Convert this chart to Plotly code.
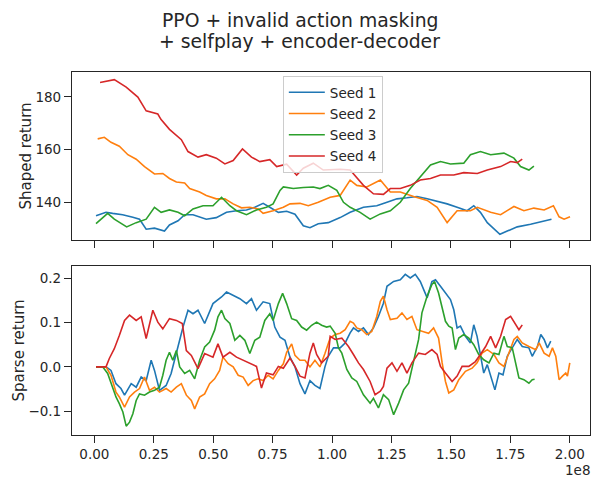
import plotly.graph_objects as go

# ---------------- data (x in units of 1e8 environment steps) ----------------
series_names = ["Seed 1", "Seed 2", "Seed 3", "Seed 4"]
colors = ["#1f77b4", "#ff7f0e", "#2ca02c", "#d62728"]

shaped_x1 = [0.007,0.049,0.077,0.119,0.162,0.19,0.218,0.253,0.295,0.316,0.352,0.38,0.415,0.471,0.513,0.556,0.598,0.64,0.675,0.71,0.738,0.774,0.809,0.844,0.879,0.907,0.942,0.984,1.034,1.076,1.132,1.188,1.231,1.273,1.315,1.357,1.4,1.442,1.484,1.526,1.568,1.596,1.624,1.653,1.681,1.706,1.737,1.779,1.835,1.878,1.923]
shaped_y1 = [135,136.3,135.9,135.4,134.4,133.7,129.9,130.3,129.2,131.5,133.1,135.4,135.4,133.7,134.3,136.3,136.9,137.2,138.2,139.7,138.2,136.3,136.7,135.6,131.2,130.5,132,132.4,134.3,136.3,138.2,138.8,140.1,141.4,141.8,142.3,141.4,140.5,139.5,138.2,136.9,138.8,136.3,132.4,129.9,128,129.2,130.8,131.8,132.8,133.7]

shaped_x2 = [0.014,0.042,0.07,0.105,0.141,0.176,0.211,0.253,0.288,0.316,0.345,0.38,0.401,0.443,0.471,0.513,0.549,0.584,0.619,0.654,0.689,0.71,0.752,0.795,0.823,0.865,0.9,0.942,0.992,1.034,1.076,1.104,1.146,1.203,1.245,1.287,1.343,1.4,1.442,1.484,1.526,1.582,1.611,1.667,1.709,1.765,1.807,1.849,1.892,1.931,1.955,1.976,2.001]
shaped_y2 = [164.1,164.7,162.8,161.3,158.1,156.4,153.6,150.8,151,149.1,147.8,147.4,145.3,144,142.7,141.4,141.4,139.5,138,138.2,137.6,135.9,136.9,138.2,139.5,139.7,138.8,140.1,142,142.7,148.5,146.5,145.9,148.5,144,144,142.3,140.8,138.2,132.4,136.9,136.9,138.2,136.3,135.4,138.5,136.9,137.9,137.2,138.8,134.6,133.7,134.6]

shaped_x3 = [0.007,0.035,0.056,0.084,0.105,0.136,0.176,0.218,0.253,0.281,0.316,0.352,0.38,0.415,0.457,0.499,0.535,0.57,0.598,0.64,0.682,0.724,0.752,0.781,0.795,0.837,0.879,0.921,0.949,0.984,1.02,1.048,1.076,1.118,1.16,1.203,1.245,1.287,1.329,1.371,1.414,1.456,1.498,1.554,1.582,1.624,1.667,1.723,1.765,1.793,1.828,1.849]
shaped_y3 = [132,134.3,135.9,133.7,132.4,130.8,132.4,133.7,138.2,136.3,137.2,136.3,135,137.6,138.8,138.8,142,138.8,136.9,135.4,137.2,138.2,139.5,144.6,145.9,145.3,145.7,145.9,145.3,146.5,144.6,140.1,138.2,136.3,133.7,135.7,136.9,140.1,145.3,149.7,154.2,155.5,154.6,154.9,158.1,159.3,158.1,158.7,156.8,153.6,152.3,153.8]

shaped_x4 = [0.024,0.084,0.134,0.183,0.218,0.267,0.28,0.316,0.366,0.394,0.436,0.471,0.513,0.549,0.584,0.623,0.661,0.696,0.738,0.767,0.809,0.851,0.879,0.921,0.963,1.034,1.076,1.09,1.132,1.174,1.216,1.245,1.287,1.329,1.371,1.414,1.456,1.512,1.554,1.611,1.653,1.709,1.751,1.779,1.8]
shaped_y4 = [185.4,186.5,183.7,179.9,174.7,173.5,171.5,167.7,163.8,159.3,157.2,158.1,156.8,154.6,155.9,160.3,157.2,155.5,156.2,153.6,154.5,150.4,153,154.9,152.3,152.6,152.3,150.8,146.5,143.3,143.1,145.3,145.3,146.5,148.5,149.1,150.4,150.4,151.3,151,152.3,153.6,155.5,155.1,156.4]

sparse_x1 = [0.007,0.049,0.07,0.091,0.112,0.127,0.155,0.176,0.197,0.218,0.239,0.253,0.274,0.302,0.323,0.351,0.373,0.394,0.415,0.436,0.464,0.499,0.535,0.556,0.584,0.612,0.64,0.661,0.682,0.71,0.738,0.759,0.781,0.802,0.823,0.844,0.865,0.886,0.907,0.928,0.949,0.97,0.984,1.006,1.034,1.055,1.076,1.09,1.111,1.132,1.153,1.174,1.195,1.216,1.231,1.259,1.287,1.308,1.329,1.35,1.371,1.4,1.42,1.435,1.456,1.477,1.498,1.512,1.526,1.54,1.561,1.582,1.596,1.61,1.624,1.638,1.653,1.674,1.685,1.702,1.719,1.737,1.758,1.779,1.8,1.828,1.842,1.864,1.878,1.892,1.906,1.92]
sparse_y1 = [0,0,-0.008,-0.038,-0.049,-0.064,-0.038,-0.046,-0.023,-0.031,0.015,-0.008,-0.053,-0.042,-0.015,0.045,0.09,0.128,0.12,0.128,0.098,0.143,0.158,0.169,0.162,0.154,0.143,0.154,0.128,0.147,0.143,0.09,0.067,0.06,0.022,0,-0.038,-0.061,-0.031,-0.042,-0.049,0,0.024,0.043,0.043,0.054,0.077,0.088,0.08,0.088,0.073,0.088,0.114,0.144,0.182,0.193,0.197,0.209,0.201,0.209,0.193,0.156,0.193,0.197,0.182,0.167,0.152,0.129,0.088,0.092,0.069,0.054,0.095,0.069,0.031,-0.014,0.005,-0.029,-0.052,-0.014,-0.018,0.024,0.043,0.062,0.046,0.043,0.024,0.046,0.073,0.062,0.043,0.058]

sparse_x2 = [0.007,0.049,0.07,0.091,0.105,0.127,0.148,0.169,0.19,0.211,0.232,0.253,0.274,0.302,0.323,0.345,0.366,0.387,0.408,0.422,0.443,0.464,0.485,0.506,0.527,0.541,0.563,0.584,0.605,0.626,0.647,0.668,0.689,0.71,0.731,0.752,0.774,0.795,0.809,0.83,0.844,0.865,0.886,0.907,0.928,0.949,0.97,0.992,1.013,1.034,1.055,1.076,1.09,1.104,1.125,1.146,1.167,1.188,1.203,1.216,1.231,1.245,1.273,1.294,1.315,1.336,1.357,1.378,1.406,1.427,1.448,1.463,1.477,1.491,1.512,1.533,1.561,1.589,1.61,1.631,1.653,1.681,1.702,1.723,1.744,1.765,1.779,1.8,1.828,1.857,1.871,1.892,1.913,1.927,1.941,1.955,1.969,1.983,1.99,2.0]
sparse_y2 = [0,0,-0.019,-0.057,-0.068,-0.091,-0.068,-0.057,-0.049,-0.023,-0.053,-0.046,-0.057,-0.049,-0.057,-0.046,-0.038,-0.064,-0.076,-0.095,-0.068,-0.061,-0.038,-0.027,-0.008,0.022,0.007,0,-0.019,-0.023,-0.042,-0.031,-0.027,-0.031,-0.019,-0.027,-0.008,0.007,0.033,0.052,0.026,0.015,0.015,0,0.015,0,0.03,0.065,0.073,0.076,0.084,0.103,0.099,0.088,0.084,0.073,0.08,0.114,0.148,0.16,0.129,0.107,0.11,0.122,0.107,0.114,0.084,0.08,0.076,0.088,0.065,0.009,-0.033,-0.059,-0.052,-0.029,-0.01,-0.003,0.009,0.031,0.039,0.028,0.009,0.001,0.031,0.062,0.069,0.054,0.046,0.039,0.054,0.031,0.024,0.043,0.024,-0.029,-0.021,-0.014,-0.021,0.009]

sparse_x3 = [0.007,0.035,0.056,0.077,0.091,0.105,0.12,0.134,0.148,0.162,0.176,0.19,0.211,0.232,0.253,0.274,0.288,0.302,0.316,0.33,0.345,0.359,0.38,0.401,0.422,0.443,0.464,0.485,0.506,0.52,0.535,0.549,0.57,0.591,0.612,0.633,0.654,0.675,0.696,0.717,0.738,0.752,0.774,0.792,0.809,0.83,0.851,0.872,0.893,0.914,0.935,0.956,0.977,0.992,1.013,1.027,1.041,1.062,1.083,1.104,1.132,1.16,1.174,1.195,1.216,1.238,1.259,1.28,1.301,1.322,1.343,1.364,1.378,1.4,1.42,1.431,1.448,1.463,1.477,1.491,1.505,1.519,1.533,1.554,1.575,1.596,1.617,1.638,1.66,1.681,1.702,1.723,1.737,1.758,1.772,1.786,1.807,1.828,1.842,1.852]
sparse_y3 = [0,0,-0.015,-0.046,-0.068,-0.083,-0.102,-0.134,-0.125,-0.106,-0.076,-0.061,-0.064,-0.057,-0.053,-0.046,-0.019,0.015,0.033,0.015,0.037,0,-0.015,-0.008,-0.027,0.015,0.045,0.056,0.083,0.113,0.128,0.109,0.098,0.06,0.071,0.06,0.03,0.06,0.067,0.105,0.12,0.105,0.143,0.166,0.143,0.109,0.105,0.09,0.083,0.094,0.101,0.094,0.09,0.092,0.076,0.043,0.031,-0.006,-0.025,-0.033,-0.063,-0.082,-0.071,-0.093,-0.063,-0.074,-0.108,-0.082,-0.052,-0.037,0.009,0.062,0.122,0.16,0.186,0.193,0.167,0.137,0.103,0.092,0.088,0.039,0.065,0.073,0.065,0.05,0.028,0.016,0.009,0.031,0.028,0.069,0.046,0.043,0.009,-0.025,-0.029,-0.037,-0.029,-0.028]

sparse_x4 = [0.007,0.049,0.063,0.084,0.105,0.127,0.148,0.176,0.197,0.218,0.246,0.267,0.288,0.316,0.345,0.37,0.387,0.408,0.436,0.464,0.499,0.52,0.541,0.57,0.598,0.626,0.654,0.682,0.703,0.724,0.752,0.774,0.795,0.823,0.844,0.865,0.886,0.907,0.921,0.935,0.956,0.984,0.992,1.013,1.041,1.069,1.09,1.111,1.132,1.16,1.181,1.203,1.216,1.231,1.252,1.273,1.294,1.315,1.336,1.364,1.392,1.42,1.442,1.456,1.477,1.505,1.526,1.547,1.575,1.603,1.624,1.646,1.667,1.688,1.709,1.73,1.751,1.772,1.786,1.8]
sparse_y4 = [0,0,0.019,0.041,0.071,0.105,0.117,0.105,0.113,0.064,0.128,0.101,0.086,0.109,0.105,0.098,0.037,0.026,-0.004,0.03,0.022,0.052,0.022,0.033,0.022,0.015,0.009,0.001,-0.048,-0.014,-0.018,0.001,-0.003,0.02,0.001,-0.021,-0.025,0.031,0.054,0.028,0.009,0.024,0.069,0.062,0.065,0.046,0.028,0.009,-0.006,-0.033,-0.063,-0.055,-0.044,-0.003,0.009,-0.01,0.009,-0.014,0.009,0.031,0.028,0.039,0.028,0.001,-0.014,-0.033,-0.021,0.001,0.001,0.012,0.028,0.046,0.069,0.043,0.069,0.107,0.114,0.095,0.084,0.095]

x_tick_vals = [0.0, 0.25, 0.5, 0.75, 1.0, 1.25, 1.5, 1.75, 2.0]
shaped_ticks = [140, 160, 180]
sparse_ticks = [-0.1, 0.0, 0.1, 0.2]
title_lines = ["PPO + invalid action masking", "+ selfplay + encoder-decoder"]

shaped_x = [shaped_x1, shaped_x2, shaped_x3, shaped_x4]
shaped_y = [shaped_y1, shaped_y2, shaped_y3, shaped_y4]
sparse_x = [sparse_x1, sparse_x2, sparse_x3, sparse_x4]
sparse_y = [sparse_y1, sparse_y2, sparse_y3, sparse_y4]

# ---------------- figure ----------------
TXT = "#262626"
FONT = "DejaVu Sans"

fig = go.Figure()
for i, name in enumerate(series_names):
    fig.add_trace(go.Scatter(x=shaped_x[i], y=shaped_y[i], mode="lines", name=name,
                             line=dict(color=colors[i], width=1.6),
                             xaxis="x", yaxis="y", legendgroup=name))
for i, name in enumerate(series_names):
    fig.add_trace(go.Scatter(x=sparse_x[i], y=sparse_y[i], mode="lines", name=name,
                             line=dict(color=colors[i], width=1.6), showlegend=False,
                             xaxis="x2", yaxis="y2", legendgroup=name))

axis_common = dict(showline=True, mirror=True, linecolor=TXT, linewidth=1.25,
                   ticks="outside", ticklen=7, tickwidth=1.25, tickcolor=TXT,
                   showgrid=False, zeroline=False,
                   tickfont=dict(family=FONT, size=13.5, color=TXT))

x_range = [-0.094, 2.085]
annotations = [
    dict(text=title_lines[0], xref="paper", yref="paper", x=0.44, y=1.143,
         xanchor="center", yanchor="middle", showarrow=False,
         font=dict(family=FONT, size=18.8, color=TXT)),
    dict(text=title_lines[1], xref="paper", yref="paper", x=0.44, y=1.083,
         xanchor="center", yanchor="middle", showarrow=False,
         font=dict(family=FONT, size=18.8, color=TXT)),
    dict(text="1e8", xref="paper", yref="paper", x=1, y=-0.0964, xshift=2,
         xanchor="right", yanchor="middle", showarrow=False,
         font=dict(family=FONT, size=13.5, color=TXT)),
]

fig.update_layout(
    width=596, height=486,
    margin=dict(l=72, r=6, t=72, b=51),
    paper_bgcolor="white", plot_bgcolor="white",
    font=dict(family=FONT, color=TXT),
    xaxis=dict(axis_common, domain=[0, 1], anchor="y", range=x_range,
               tickvals=x_tick_vals, showticklabels=False, matches="x2"),
    yaxis=dict(axis_common, domain=[0.537, 1], anchor="x", range=[125.8, 189.4],
               tickvals=shaped_ticks,
               title=dict(text="Shaped return", standoff=0,
                          font=dict(family=FONT, size=15, color=TXT))),
    xaxis2=dict(axis_common, domain=[0, 1], anchor="y2", range=x_range,
                tickvals=x_tick_vals, tickformat=".2f"),
    yaxis2=dict(axis_common, domain=[0, 0.4656], anchor="x2", range=[-0.154, 0.228],
                tickvals=sparse_ticks, tickformat=".1f",
                title=dict(text="Sparse return", standoff=0,
                           font=dict(family=FONT, size=15, color=TXT))),
    legend=dict(x=0.407, y=0.989, xanchor="left", yanchor="top",
                bgcolor="rgba(255,255,255,0.8)", bordercolor="#cccccc", borderwidth=1,
                font=dict(family=FONT, size=13.5, color=TXT),
                itemwidth=36, tracegroupgap=0.7),
    showlegend=True,
    annotations=annotations,
)

fig.write_html("out.html")
